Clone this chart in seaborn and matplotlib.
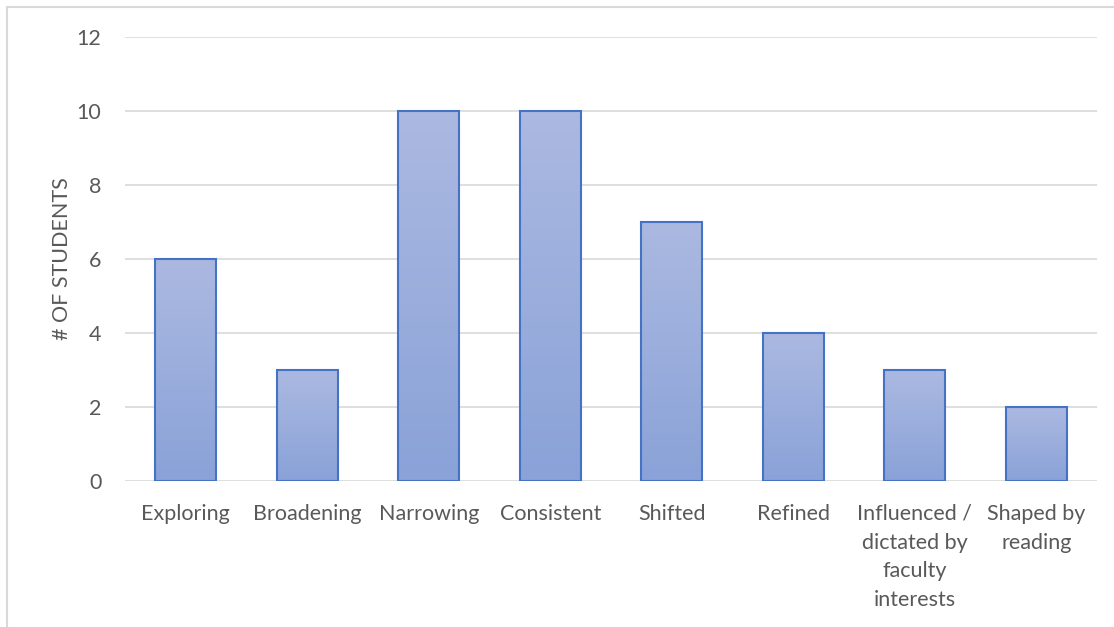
import numpy as np
import pandas as pd
import matplotlib
matplotlib.use("Agg")
import matplotlib.pyplot as plt
from matplotlib.colors import LinearSegmentedColormap
from matplotlib.patches import Rectangle
import seaborn as sns

# Chart data
categories = ["Exploring", "Broadening", "Narrowing", "Consistent", "Shifted",
              "Refined", "Influenced /\ndictated by\nfaculty\ninterests", "Shaped by\nreading"]
students = [6, 3, 10, 10, 7, 4, 3, 2]
y_ticks = [0, 2, 4, 6, 8, 10, 12]

df = pd.DataFrame({"category": categories, "students": students})

sns.set_theme(style="white")
plt.rcParams["font.family"] = ["Lato", "DejaVu Sans"]

fig = plt.figure(figsize=(11.14, 6.27), dpi=100)
ax = fig.add_axes([0.1122, 0.2329, 0.8725, 0.7081])

sns.barplot(data=df, x="category", y="students", ax=ax, width=0.5,
            color="#99acdc", edgecolor="#4472c4", linewidth=1.5, saturation=1)

# vertical gradient inside each bar, clipped to the bar shape
grad = LinearSegmentedColormap.from_list("g", ["#8aa2d8", "#abb9e1"])
for bar in ax.patches:
    x0, y0 = bar.get_x(), bar.get_y()
    w, h = bar.get_width(), bar.get_height()
    im = ax.imshow(np.linspace(0, 1, 100).reshape(-1, 1), cmap=grad, aspect="auto",
                   origin="lower", extent=[x0, x0 + w, y0, y0 + h], zorder=bar.get_zorder())
    im.set_clip_path(bar)
    bar.set_facecolor("none")
    bar.set_zorder(bar.get_zorder() + 0.1)

ax.set_xlim(-0.5, len(categories) - 0.5)
ax.set_ylim(0, 12)
ax.set_yticks(y_ticks)
ax.yaxis.grid(True, color="#d9d9d9", linewidth=1.2)
ax.set_axisbelow(True)
for s in ax.spines.values():
    s.set_visible(False)

ax.tick_params(axis="both", length=0, labelsize=15.5, labelcolor="#595959")
ax.tick_params(axis="y", pad=17)
ax.tick_params(axis="x", pad=16.5)
for lbl in ax.get_xticklabels():
    lbl.set_linespacing(1.55)
ax.set_xlabel("")
ax.set_ylabel("# OF STUDENTS", fontsize=15.5, color="#595959", labelpad=3)

# outer chart frame
fig.patches.append(Rectangle((7 / 1114, -0.05), 1.2, 1 - 7 / 627 + 0.05,
                             transform=fig.transFigure, fill=False,
                             edgecolor="#d9d9d9", linewidth=1.5))

fig.savefig("out.png", dpi=100)
